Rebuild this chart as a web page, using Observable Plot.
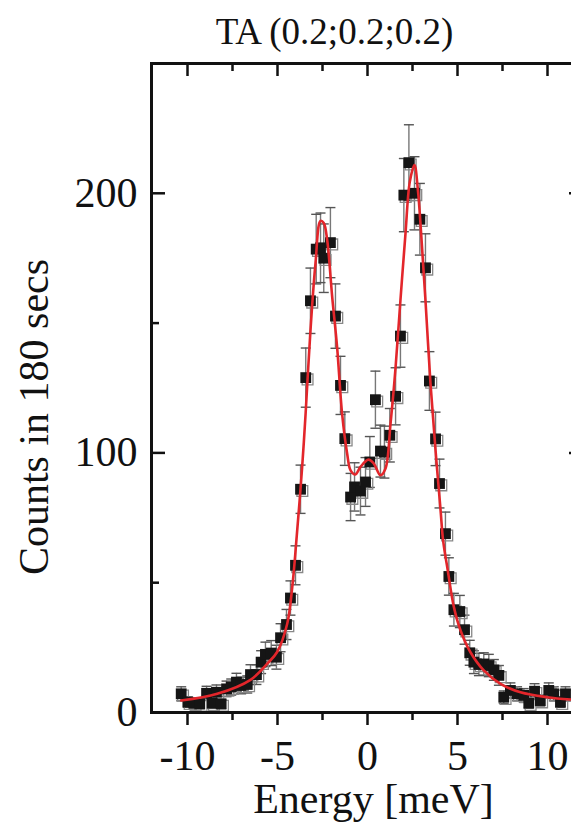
<!DOCTYPE html>
<html>
<head>
<meta charset="utf-8">
<script src="https://cdn.jsdelivr.net/npm/d3@7"></script>
<script src="https://cdn.jsdelivr.net/npm/@observablehq/plot@0.6"></script>
<style>
  html, body { margin: 0; padding: 0; background: #fff; overflow: hidden; }
  #wrap { width: 571px; height: 822px; overflow: hidden; }
  #wrap svg { max-width: none !important; }
</style>
</head>
<body>
<div id="wrap"></div>
<script>
// Measured data: energy (meV), counts, error
const energy = [-10.35,-9.98,-9.65,-9.32,-8.94,-8.63,-8.39,-8.13,-7.83,-7.57,-7.28,-7.02,-6.68,-6.5,-6.17,-5.91,-5.67,-5.35,-5.06,-4.83,-4.5,-4.28,-4.0,-3.72,-3.43,-3.17,-2.85,-2.61,-2.43,-2.06,-1.78,-1.5,-1.26,-0.94,-0.72,-0.39,-0.11,0.13,0.44,0.72,0.94,1.24,1.56,1.83,2.02,2.3,2.61,2.91,3.22,3.44,3.78,4.0,4.33,4.52,4.8,5.13,5.39,5.68,5.91,6.19,6.46,6.74,7.02,7.3,7.57,7.94,8.31,8.68,8.96,9.28,9.6,10.07,10.35,10.72,11.0];
const counts = [7.2,4,3.6,3.3,7.4,3.6,7.8,3.3,9.1,9.8,11.7,10.4,10.8,14.6,14.6,19.4,22.4,22.9,21.3,28.8,33.9,44.1,56.7,86,129,158.6,178.5,179,175,181,152.7,126,105.5,83,86.9,85.3,88.8,96.5,120.5,100.7,100.3,106.8,121.8,145,199.3,211.8,200,190,171.3,127.7,105.4,88.2,68.9,52.4,39.6,38.9,31.9,23,19.4,18.5,18.7,18.1,16.4,14.3,5.9,8.5,7.2,6.6,3.6,8.2,4.6,8.5,7.2,4,7.2];
const errors = [2.7,2,1.9,1.8,2.7,1.9,2.8,1.8,3,3.1,3.4,3.2,3.3,3.8,3.8,4.4,4.7,4.8,4.6,5.4,5.8,6.6,7.5,9.3,11.4,12.6,13.4,13.4,13.2,13.5,12.4,11.2,10.3,9.1,9.3,9.2,9.4,9.8,11,10,10,10.3,11,12,14.1,14.6,14.1,13.8,13.1,11.3,10.3,9.4,8.3,7.2,6.3,6.2,5.6,4.8,4.4,4.3,4.3,4.3,4,3.8,2.4,2.9,2.7,2.6,1.9,2.9,2.1,2.9,2.7,2,2.7];

// Fit curve
const fitEnergy = [-10.35,-8.35,-6.5,-5.57,-5.02,-4.46,-4.18,-3.93,-3.63,-3.44,-3.17,-2.89,-2.61,-2.43,-2.24,-1.96,-1.69,-1.41,-1.13,-0.94,-0.67,-0.39,0.05,0.35,0.72,1.0,1.28,1.56,1.83,2.11,2.35,2.61,2.8,2.98,3.22,3.5,3.78,4.06,4.2,4.46,4.8,5.17,5.72,6.46,7.39,8.5,9.98,11.28];
const fitCounts = [4.6,7.2,12.6,18.8,23.3,34.2,48.3,68,94.6,115,147,173,189.4,188.6,182,160,140.8,115,99.7,93.3,91.7,94.6,97.4,95.9,91.4,94,111.3,133,158.8,184.5,204.4,210.9,201.2,184.5,158.8,126.7,101,77.9,66.3,54.7,40.6,31.6,23.2,16.2,11,7.8,5.9,5];

const xTicks = [-10, -5, 0, 5, 10];
const xMinorTicks = [-7.5, -2.5, 2.5, 7.5];
const yTicks = [0, 100, 200];
const yMinorTicks = [50, 150];

const title = "TA (0.2;0.2;0.2)";
const xLabel = "Energy [meV]";
const yLabel = "Counts in 180 secs";

const points = energy.map((e, i) => ({x: e, y: counts[i], lo: counts[i] - errors[i], hi: counts[i] + errors[i]}));
const fit = fitEnergy.map((e, i) => ({x: e, y: fitCounts[i]}));

const capSymbol = { draw(ctx) { ctx.moveTo(-5, 0); ctx.lineTo(5, 0); } };

const W = 583, H = 822, mL = 151, mT = 63, mB = 110, mR = 0;
const fw = W - mL - mR, fh = H - mT - mB;

const chart = Plot.plot({
  width: W, height: H,
  marginLeft: mL, marginTop: mT, marginBottom: mB, marginRight: mR,
  x: {domain: [-12, 12]},
  y: {domain: [0, 250]},
  style: {fontFamily: "'Liberation Serif', 'Times New Roman', serif", fontSize: "42px", color: "#111", background: "#fff", maxWidth: "none"},
  marks: [
    Plot.axisX({ticks: xTicks, tickSize: 13, tickPadding: 15, tickFormat: d => String(d), label: null, strokeWidth: 2.5}),
    Plot.ruleX(xMinorTicks, {insetTop: fh, insetBottom: -8, stroke: "#111", strokeWidth: 2.5}),
    Plot.axisY({ticks: yTicks, tickSize: 0, tickPadding: 14, label: null}),
    // inward ticks on left, right, top
    Plot.ruleY(yTicks, {insetRight: fw - 14, stroke: "#111", strokeWidth: 2.5}),
    Plot.ruleY(yMinorTicks, {insetRight: fw - 8, stroke: "#111", strokeWidth: 2.5}),
    Plot.ruleY(yTicks, {insetLeft: fw - 14, stroke: "#111", strokeWidth: 2.5}),
    Plot.ruleX(xTicks, {insetBottom: fh - 13, stroke: "#111", strokeWidth: 2.5}),
    Plot.ruleX(xMinorTicks, {insetBottom: fh - 8, stroke: "#111", strokeWidth: 2.5}),
    // error bars
    Plot.ruleX(points, {x: "x", y1: "lo", y2: "hi", stroke: "#777", strokeWidth: 1.4}),
    Plot.dot(points, {x: "x", y: "lo", symbol: capSymbol, r: 5, stroke: "#555", strokeWidth: 1.4, fill: "none"}),
    Plot.dot(points, {x: "x", y: "hi", symbol: capSymbol, r: 5, stroke: "#555", strokeWidth: 1.4, fill: "none"}),
    // markers
    Plot.dot(points, {x: "x", y: "y", symbol: "square", r: 6.1, fill: "none", stroke: "#888", strokeWidth: 1.3, dx: 1.8, dy: 1.8}),
    Plot.dot(points, {x: "x", y: "y", symbol: "square", r: 6.1, fill: "#151515", stroke: "none"}),
    // fit
    Plot.line(fit, {x: "x", y: "y", stroke: "#e3262b", strokeWidth: 2.6, curve: "catmull-rom"}),
    Plot.frame({stroke: "#111", strokeWidth: 3}),
    // texts
    Plot.text([title], {frameAnchor: "top", dx: -33, dy: -20, lineAnchor: "bottom", textAnchor: "middle", fontSize: 37, fill: "#111"}),
    Plot.text([xLabel], {frameAnchor: "bottom", dx: 6, dy: 100, lineAnchor: "bottom", textAnchor: "middle", fontSize: 42, fill: "#111"}),
    Plot.text([yLabel], {frameAnchor: "left", dx: -104, dy: 29, rotate: -90, lineAnchor: "bottom", textAnchor: "middle", fontSize: 42, fill: "#111"})
  ]
});
document.getElementById("wrap").appendChild(chart);
</script>
</body>
</html>
